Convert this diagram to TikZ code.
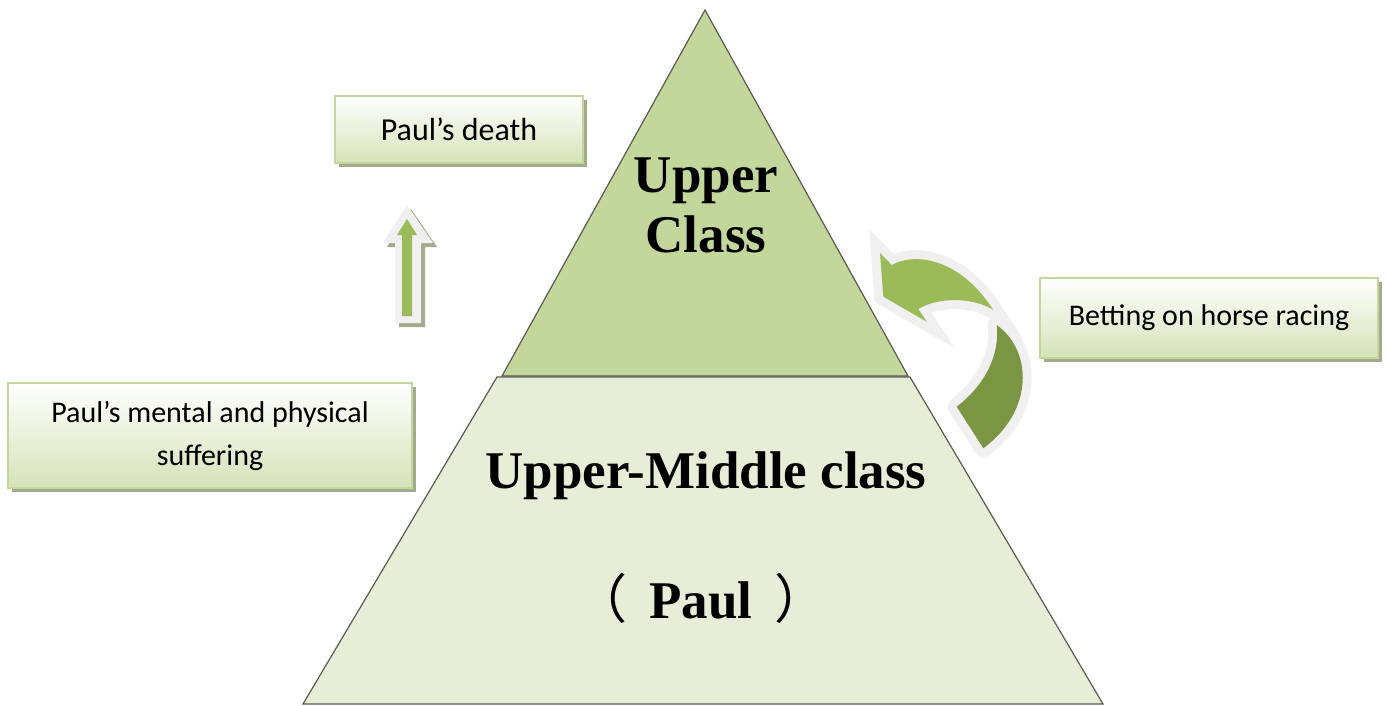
\documentclass[tikz,border=0pt]{standalone}
\usepackage{fontspec}
\setmainfont{Liberation Serif}
\newfontfamily\calfont{Carlito}
\newfontfamily\cjkfont{Noto Sans CJK SC}
\definecolor{upperfill}{HTML}{C3D69B}
\definecolor{lowerfill}{HTML}{E6EED8}
\definecolor{edgecol}{HTML}{5A5A50}
\definecolor{boxborder}{HTML}{C3D69B}
\definecolor{boxbottom}{HTML}{D5E3B8}
\definecolor{shadowcol}{HTML}{A3AB8C}
\definecolor{halo}{HTML}{F0F0F0}
\definecolor{lightgreen}{HTML}{9BBB59}
\definecolor{darkgreen}{HTML}{7B9643}
\tikzset{
  textbox/.style={draw=boxborder, line width=1pt, top color=white, bottom color=boxbottom,
    font=\calfont\fontsize{15}{21.5}\selectfont, align=center, inner sep=0pt},
  boxshadow/.style={fill=shadowcol, draw=none},
  title/.style={font=\bfseries\fontsize{26.5}{29}\selectfont, inner sep=0pt},
}
\begin{document}
\begin{tikzpicture}[x=0.5pt,y=-0.5pt]
\useasboundingbox (0,0) rectangle (1386,706);
% pyramid
\path[fill=lowerfill, draw=edgecol, line width=0.6pt] (497,377) -- (910,377) -- (1103,704) -- (303,704) -- cycle;
\path[fill=upperfill, draw=edgecol, line width=0.6pt] (705,10) -- (908,376) -- (502,376) -- cycle;
\node[title, anchor=base] (upper) at (706,192) {Upper};
\node[title, anchor=base] (class) at (706,252) {Class};
\node[title, anchor=base] (middle) at (706,488) {Upper-Middle class};
\node[title, anchor=base] (paul) at (701,618) {{\cjkfont\mdseries （}\hspace{11pt}Paul\hspace{11pt}{\cjkfont\mdseries ）}};
% boxes with shadows
\fill[boxshadow] (339,100) rectangle (587,167);
\node[textbox, minimum width=124pt, minimum height=33.5pt, font=\calfont\fontsize{16}{21.5}\selectfont] (death) at (459,129.5) {Paul’s death};
\fill[boxshadow] (1044,282) rectangle (1382,362);
\node[textbox, minimum width=169pt, minimum height=40pt] (betting) at (1209,318) {Betting on horse racing};
\fill[boxshadow] (12,387) rectangle (416,492);
\node[textbox, minimum width=202pt, minimum height=52.5pt] (suffer) at (210,435.5) {Paul’s mental and physical\\suffering};
% up arrow
\fill[shadowcol] (411,209) -- (437,247) -- (425,247) -- (425,327) -- (399,327) -- (399,247) -- (387,247) -- cycle;
\fill[halo] (407,205) -- (433,243) -- (421,243) -- (421,323) -- (395,323) -- (395,243) -- (383,243) -- cycle;
\fill[lightgreen] (407,219) -- (417,235) -- (412,235) -- (412,316) -- (402,316) -- (402,235) -- (397,235) -- cycle;
% curved arrow
\def\lightpart{(880,253) -- (891.7,265) .. controls (915,252) and (960,258) .. (993.3,310) .. controls (975,298) and (940,296) .. (918.3,309) -- (926.7,321.7) -- (883.3,296.7) -- cycle}
\def\darkpart{(996.7,325) .. controls (1032,350) and (1035,410) .. (983.3,448.3) -- (956.7,406.7) .. controls (985,385) and (1000,355) .. (996.7,325) -- cycle}
\draw[halo, line width=9pt, line join=miter] \lightpart;
\draw[halo, line width=9pt, line join=round] \darkpart;
\fill[lightgreen] \lightpart;
\fill[darkgreen] \darkpart;
\end{tikzpicture}
\end{document}
